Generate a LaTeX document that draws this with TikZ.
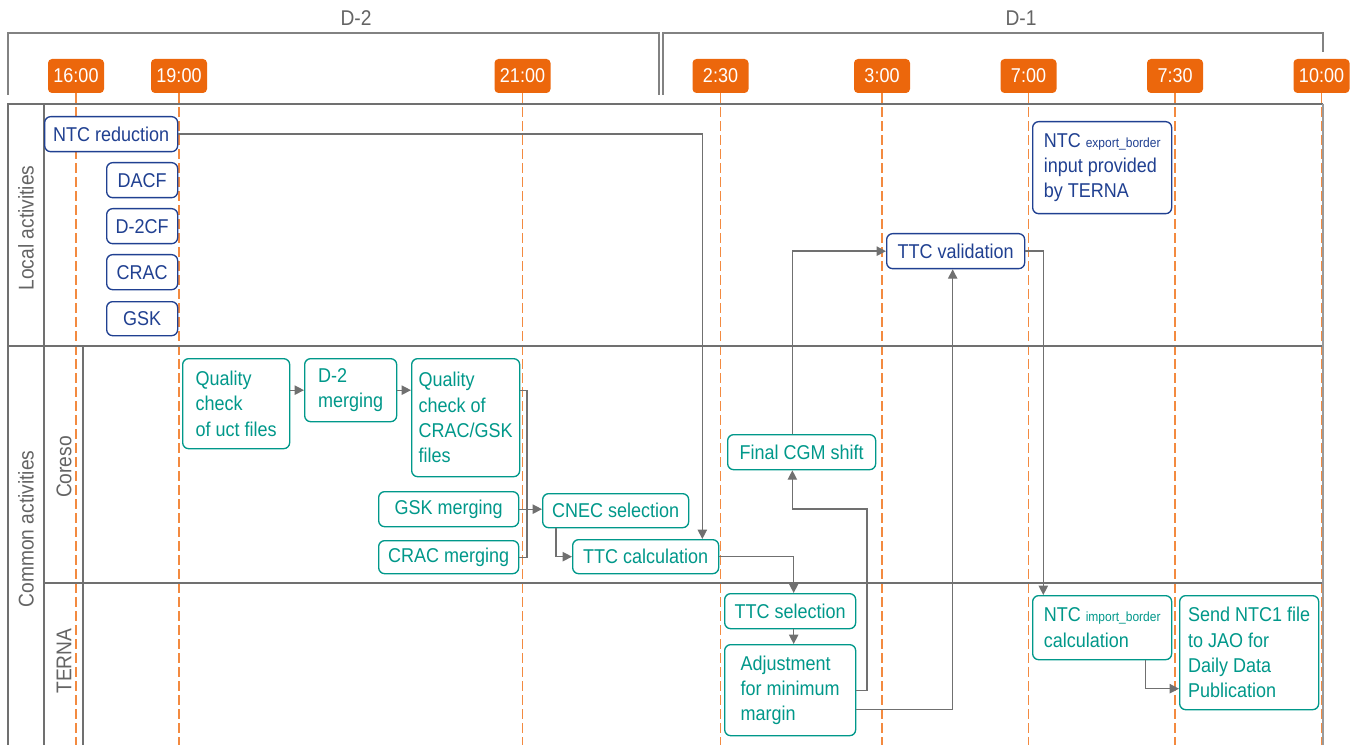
\documentclass[tikz,border=0pt]{standalone}
\usepackage{fontspec}
\setmainfont{Liberation Sans}[FakeStretch=0.9]
\usetikzlibrary{arrows.meta,calc}

\definecolor{tmorange}{RGB}{236,103,12}
\definecolor{dashorange}{RGB}{243,138,64}
\definecolor{locblue}{RGB}{32,64,145}
\definecolor{comteal}{RGB}{0,152,138}
\definecolor{linegray}{RGB}{112,112,112}
\definecolor{headgray}{RGB}{130,130,130}
\definecolor{labgray}{RGB}{100,100,100}

% small index text such as "export_border"
\newcommand\subtag[1]{{\fontsize{10}{12}\selectfont #1}}
% box from its top-left to its bottom-right corner: style, name, x1, y1, x2, y2, text
\newcommand\flowbox[7]{\node[#1, anchor=north west,
  minimum width={(#5-#3)*0.75pt}, minimum height={(#6-#4)*0.75pt}] (#2) at (#3,#4) {#7};}

\tikzset{
  base/.style={draw, rounded corners=4.5pt, fill=white, line width=1pt,
    inner xsep=0pt, inner ysep=0pt, align=left, font=\fontsize{15}{19}\selectfont},
  loc/.style={base, draw=locblue, text=locblue},
  com/.style={base, draw=comteal, text=comteal},
  timebox/.style={fill=tmorange, text=white, rounded corners=3pt, inner sep=0pt,
    minimum width=56*0.75pt, minimum height=34*0.75pt, font=\fontsize{15}{18}\selectfont},
  timeline/.style={dashorange, line width=1.1pt, dash pattern=on 7pt off 3.5pt},
  frame/.style={linegray, line width=1pt},
  headline/.style={headgray, line width=1pt},
  conn/.style={linegray, line width=1pt},
  arr/.style={conn, -{Triangle[length=7pt,width=7pt]}},
  lanelabel/.style={text=labgray, rotate=90, font=\fontsize{16}{19}\selectfont},
  daylabel/.style={text=labgray, font=\fontsize{16}{19}\selectfont},
}

\begin{document}
\begin{tikzpicture}[x=0.75pt,y=-0.75pt]
\useasboundingbox (0,0) rectangle (1359,745);
\coordinate (bottom) at (0,745);

% day brackets
\node[daylabel] (d2) at (356,18) {D-2};
\node[daylabel] (d1) at (1021,18) {D-1};
\draw[headline] (8,95) |- (659,33) -- (659,95);
\draw[headline] (663,95) |- (1323,33) -- (1323,52);

% time markers and their dashed guides
\foreach \n/\x/\lab in {t16/76/16:00, t19/179/19:00, t21/522.5/21:00, t0230/720.5/2:30,
                        t0300/882/3:00, t0700/1028.5/7:00, t0730/1175/7:30, t1000/1321.5/10:00}{
  \node[timebox] (\n) at (\x,76) {\lab};
  \draw[timeline] (\n.south) -- (\n.south |- bottom);
}

% swimlane frame
\draw[frame] (8,745) -- (8,104) -- (1323,104);
\draw[frame] (8,346) -- (1323,346);
\draw[frame] (44,583) -- (1323,583);
\draw[frame] (44,104) -- (44,745);
\draw[frame] (83,346) -- (83,745);
\draw[headgray!80, line width=1.4pt] (1323,104) -- (1323,745);

% lane titles
\node[lanelabel] (lloc) at (26,228) {Local activities};
\node[lanelabel] (lcom) at (26,529) {Common activities};
\node[lanelabel] (lcor) at (64,467) {Coreso};
\node[lanelabel] (lter) at (64,661) {TERNA};

% local activities
\flowbox{loc}{ntcred}{44}{116}{177}{151}{NTC reduction}
\flowbox{loc}{dacf}{106}{162}{177}{197}{DACF}
\flowbox{loc}{d2cf}{106}{208}{177}{243}{D-2CF}
\flowbox{loc}{crac}{106}{254}{177}{289}{CRAC}
\flowbox{loc}{gsk}{106}{301}{177}{335}{GSK}
\flowbox{loc}{ttcval}{886}{233}{1024}{268}{TTC validation}
\flowbox{loc}{ntcexp}{1032}{121}{1171}{213}{NTC \subtag{export\_border}\\input provided\\by TERNA}

% Coreso lane
\flowbox{com}{qc1}{182}{358}{289}{448}{Quality\\check\\of uct files}
\flowbox{com}{d2m}{304}{358}{396}{421}{D-2\\merging}
\flowbox{com}{qc2}{411}{358}{519}{476}{Quality\\check of\\CRAC/GSK\\files}
\flowbox{com}{gskm}{378}{491}{518}{526}{GSK merging}
\flowbox{com}{cracm}{378}{540}{518}{573}{CRAC merging}
\flowbox{com}{cnec}{542}{493}{688}{527}{CNEC selection}
\flowbox{com}{ttccalc}{572}{539}{718}{573}{TTC calculation}
\flowbox{com}{fcgm}{727}{434}{875}{469}{Final CGM shift}

% TERNA lane
\flowbox{com}{ttcsel}{724}{593}{855}{628}{TTC selection}
\flowbox{com}{adj}{724}{644}{855}{735}{Adjustment\\for minimum\\margin}
\flowbox{com}{ntcimp}{1032}{595}{1171}{659}{NTC \subtag{import\_border}\\calculation}
\flowbox{com}{send}{1179}{595}{1318}{709}{Send NTC1 file\\to JAO for\\Daily Data\\Publication}

% connectors
\coordinate (merge) at (527,510);
\coordinate (bendA) at (867,509);
\draw[arr] (ntcred.east) -| ($(ttccalc.north east)+(-17,0)$);
\draw[arr] (qc1.east |- d2m.west) -- (d2m.west);
\draw[arr] (d2m.east) -- (d2m.east -| qc2.west);
\draw[conn] (qc2.east |- d2m.east) -| (merge) |- (cracm.east);
\draw[arr] (gskm.east) -- (gskm.east -| cnec.west);
\draw[arr] ($(cnec.south west)+(14,0)$) |- (ttccalc.west);
\draw[arr] (ttccalc.east) -| ($(ttcsel.north)+(3.5,0)$);
\draw[arr] ($(ttcsel.south)+(3.5,0)$) -- ($(adj.north)+(3.5,0)$);
\draw[arr] (adj.east) -| (bendA) -| ($(fcgm.south)+(-9.3,0)$);
\draw[arr] ($(fcgm.north)+(-9.3,0)$) |- (ttcval.west);
\draw[arr] ($(adj.east)+(0,19)$) -| ($(ttcval.south)+(-3,0)$);
\draw[arr] (ttcval.east) -| ($(ntcimp.north west)+(11.3,0)$);
\draw[arr] ($(ntcimp.south east)+(-26.7,0)$) |- ($(send.west)+(0,36)$);
\end{tikzpicture}
\end{document}
